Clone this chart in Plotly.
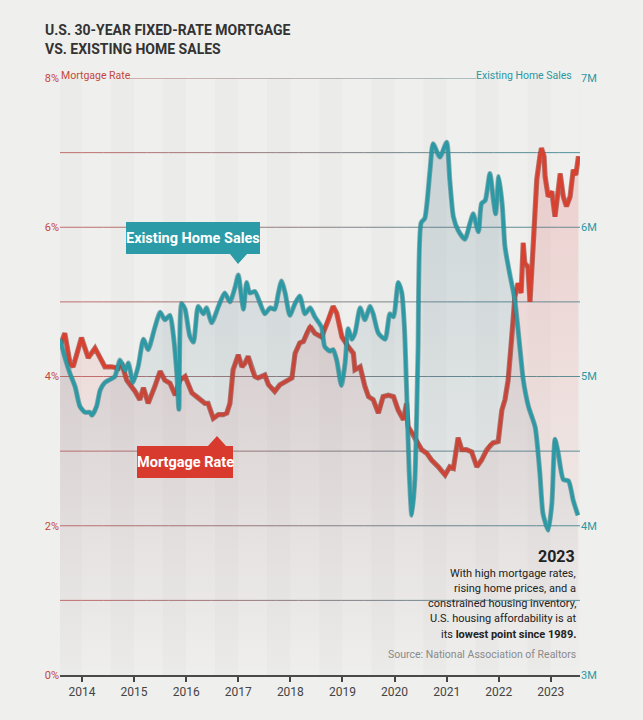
import plotly.graph_objects as go

# ---------------- data ----------------
rate_t = [2013.58, 2013.67, 2013.77, 2013.83, 2013.99, 2014.12, 2014.25, 2014.38, 2014.44, 2014.57,
          2014.70, 2014.76, 2014.86, 2015.02, 2015.11, 2015.18, 2015.27, 2015.40, 2015.50, 2015.59,
          2015.69, 2015.79, 2015.88, 2015.98, 2016.11, 2016.20, 2016.27, 2016.36, 2016.42, 2016.52,
          2016.62, 2016.71, 2016.78, 2016.84, 2016.90, 2017.00, 2017.07, 2017.13, 2017.19, 2017.26,
          2017.32, 2017.38, 2017.51, 2017.58, 2017.70, 2017.80, 2017.90, 2018.03, 2018.09, 2018.18,
          2018.25, 2018.31, 2018.38, 2018.47, 2018.60, 2018.73, 2018.82, 2018.89, 2018.99, 2019.11,
          2019.21, 2019.24, 2019.34, 2019.43, 2019.50, 2019.59, 2019.69, 2019.78, 2019.88, 2019.98,
          2020.07, 2020.17, 2020.23, 2020.26, 2020.39, 2020.52, 2020.62, 2020.71, 2020.84, 2020.97,
          2021.06, 2021.13, 2021.22, 2021.29, 2021.38, 2021.48, 2021.58, 2021.67, 2021.77, 2021.83,
          2021.89, 2021.99, 2022.06, 2022.12, 2022.18, 2022.25, 2022.31, 2022.37, 2022.43, 2022.47,
          2022.50, 2022.56, 2022.60, 2022.66, 2022.73, 2022.79, 2022.82, 2022.87, 2022.89, 2022.95,
          2023.02, 2023.08, 2023.18, 2023.24, 2023.30, 2023.37, 2023.43, 2023.48, 2023.53]
rate_pct = [4.41, 4.58, 4.18, 4.13, 4.52, 4.25, 4.38, 4.22, 4.13, 4.13,
            4.11, 4.18, 3.95, 3.80, 3.69, 3.85, 3.64, 3.87, 4.07, 3.95,
            3.91, 3.75, 3.95, 4.00, 3.78, 3.73, 3.69, 3.64, 3.64, 3.44,
            3.49, 3.49, 3.51, 3.64, 4.09, 4.29, 4.13, 4.18, 4.27, 4.09,
            4.00, 3.98, 4.02, 3.89, 3.80, 3.89, 3.93, 3.98, 4.31, 4.45,
            4.47, 4.58, 4.67, 4.58, 4.53, 4.76, 4.94, 4.85, 4.53, 4.40,
            4.31, 4.09, 4.13, 3.87, 3.73, 3.69, 3.51, 3.73, 3.75, 3.73,
            3.55, 3.42, 3.64, 3.33, 3.19, 3.02, 2.97, 2.88, 2.79, 2.68,
            2.79, 2.77, 3.18, 3.02, 3.02, 2.99, 2.79, 2.88, 3.02, 3.08,
            3.11, 3.13, 3.55, 3.69, 3.95, 4.53, 5.07, 5.25, 5.12, 5.79,
            5.52, 5.47, 5.00, 5.74, 6.64, 6.95, 7.06, 6.95, 6.68, 6.41,
            6.48, 6.14, 6.72, 6.41, 6.28, 6.41, 6.77, 6.70, 6.95]

sales_t = [2013.58, 2013.67, 2013.77, 2013.87, 2013.96, 2014.06, 2014.15, 2014.19, 2014.28, 2014.35,
           2014.44, 2014.54, 2014.63, 2014.73, 2014.83, 2014.89, 2014.98, 2015.08, 2015.18, 2015.27,
           2015.40, 2015.50, 2015.59, 2015.69, 2015.75, 2015.82, 2015.86, 2015.91, 2015.98, 2016.07,
           2016.14, 2016.23, 2016.33, 2016.39, 2016.49, 2016.62, 2016.74, 2016.84, 2016.94, 2017.00,
           2017.07, 2017.10, 2017.16, 2017.22, 2017.32, 2017.42, 2017.51, 2017.61, 2017.70, 2017.77,
           2017.83, 2017.90, 2017.99, 2018.09, 2018.18, 2018.28, 2018.38, 2018.47, 2018.60, 2018.66,
           2018.76, 2018.82, 2018.89, 2018.98, 2019.05, 2019.11, 2019.18, 2019.24, 2019.34, 2019.43,
           2019.53, 2019.59, 2019.69, 2019.82, 2019.91, 2019.98, 2020.07, 2020.14, 2020.19, 2020.23,
           2020.28, 2020.33, 2020.39, 2020.45, 2020.51, 2020.58, 2020.68, 2020.74, 2020.87, 2021.00,
           2021.06, 2021.13, 2021.22, 2021.35, 2021.45, 2021.51, 2021.61, 2021.67, 2021.74, 2021.83,
           2021.90, 2021.94, 2022.00, 2022.07, 2022.12, 2022.21, 2022.31, 2022.41, 2022.47, 2022.57,
           2022.70, 2022.79, 2022.85, 2022.95, 2023.02, 2023.08, 2023.14, 2023.24, 2023.34, 2023.43,
           2023.52]
sales_m = [5.25, 5.13, 5.02, 4.93, 4.80, 4.76, 4.76, 4.74, 4.80, 4.91,
           4.96, 4.98, 5.00, 5.11, 5.04, 5.09, 4.96, 5.07, 5.25, 5.18,
           5.33, 5.43, 5.38, 5.41, 5.29, 5.02, 4.78, 5.49, 5.45, 5.27,
           5.23, 5.47, 5.42, 5.46, 5.36, 5.47, 5.56, 5.50, 5.60, 5.68,
           5.51, 5.45, 5.63, 5.56, 5.57, 5.49, 5.42, 5.46, 5.45, 5.56,
           5.64, 5.56, 5.41, 5.49, 5.54, 5.42, 5.46, 5.40, 5.33, 5.20,
           5.17, 5.18, 5.11, 4.94, 5.09, 5.32, 5.25, 5.29, 5.46, 5.38,
           5.47, 5.42, 5.29, 5.25, 5.42, 5.40, 5.63, 5.56, 5.33, 4.93,
           4.37, 4.07, 4.31, 5.16, 6.03, 6.06, 6.38, 6.56, 6.47, 6.57,
           6.32, 6.07, 5.98, 5.92, 6.03, 6.09, 5.97, 6.16, 6.18, 6.36,
           6.18, 6.09, 6.34, 6.14, 5.87, 5.69, 5.51, 5.18, 4.98, 4.80,
           4.66, 4.35, 4.08, 3.97, 4.15, 4.58, 4.49, 4.31, 4.30, 4.17,
           4.07]

years = list(range(2014, 2024))
rate_ticks = [0, 2, 4, 6, 8]
rate_labels = ["0%", "2%", "4%", "6%", "8%"]
sales_ticks = [3, 4, 5, 6, 7]
sales_labels = ["3M", "4M", "5M", "6M", "7M"]

TITLE = ["U.S. 30-YEAR FIXED-RATE MORTGAGE", "VS. EXISTING HOME SALES"]
NOTE_HEAD = "2023"
NOTE_LINES = ["With high mortgage rates,", "rising home prices, and a",
              "constrained housing inventory,", "U.S. housing affordability is at",
              "its <b>lowest point since 1989.</b>"]
SOURCE = "Source: National Association of Realtors"

# ---------------- style ----------------
W, H = 643, 720
L, R, T, B = 60, 580, 78, 675
BG = "#efefed"
RED = "#d8402f"
RED_DK = "#8e2a21"
TEAL = "#2c99a5"
TEAL_DK = "#1f6f78"
FONT = "Roboto, Liberation Sans Narrow, DejaVu Sans Condensed, sans-serif"


def PX(x):
    return (x - L) / (R - L)


def PY(y):
    return (B - y) / (B - T)


fig = go.Figure()

# fills
fig.add_trace(go.Scatter(
    x=sales_t, y=sales_m, yaxis="y2", mode="lines", line=dict(width=0, shape="spline", smoothing=0.6),
    fill="tozeroy",
    fillgradient=dict(type="vertical", colorscale=[[0, "rgba(70,115,135,0)"], [0.45, "rgba(70,115,135,0.0)"],
                                                   [1, "rgba(70,115,135,0.2)"]]),
    hoverinfo="skip", showlegend=False))
fig.add_trace(go.Scatter(
    x=rate_t, y=rate_pct, mode="lines", line=dict(width=0),
    fill="tozeroy",
    fillgradient=dict(type="vertical", colorscale=[[0, "rgba(225,80,80,0)"], [0.3, "rgba(225,80,80,0.05)"],
                                                   [1, "rgba(225,80,80,0.2)"]]),
    hoverinfo="skip", showlegend=False))

# lines
fig.add_trace(go.Scatter(x=sales_t, y=sales_m, yaxis="y2", mode="lines",
                         line=dict(color=TEAL_DK, width=5, shape="spline", smoothing=0.6),
                         opacity=0.5, hoverinfo="skip", showlegend=False))
fig.add_trace(go.Scatter(x=sales_t, y=sales_m, yaxis="y2", mode="lines", name="Existing Home Sales",
                         line=dict(color=TEAL, width=3.4, shape="spline", smoothing=0.6), showlegend=False))
fig.add_trace(go.Scatter(x=rate_t, y=rate_pct, mode="lines",
                         line=dict(color=RED_DK, width=5.2), opacity=0.6, hoverinfo="skip", showlegend=False))
fig.add_trace(go.Scatter(x=rate_t, y=rate_pct, mode="lines", name="Mortgage Rate",
                         line=dict(color=RED, width=3.4), showlegend=False))

shapes = []
# faint vertical year bands
for yr in range(2013, 2024):
    shapes.append(dict(type="rect", xref="x", yref="paper", x0=yr + 0.55, x1=yr + 1.0, y0=0, y1=1,
                       fillcolor="rgba(0,0,0,0.016)", line=dict(width=0), layer="below"))


# gridlines with a red -> teal horizontal gradient
def mix(t):
    a = (196, 110, 108)
    b = (78, 148, 158)
    return "rgb(%d,%d,%d)" % tuple(int(a[i] + (b[i] - a[i]) * t) for i in range(3))


NSEG = 24
for lvl in range(1, 9):
    x_start, x_end = (0.0, 1.0) if lvl < 8 else (PX(129), PX(476))
    for k in range(NSEG):
        f0 = x_start + (x_end - x_start) * k / NSEG
        f1 = x_start + (x_end - x_start) * (k + 1) / NSEG
        shapes.append(dict(type="line", xref="paper", yref="y", x0=f0, x1=f1, y0=lvl, y1=lvl,
                           line=dict(color=mix((f0 + f1) / 2), width=1), layer="below"))


def poly(points):
    return "M " + " L ".join("%.5f,%.5f" % (PX(x), PY(y)) for x, y in points) + " Z"


# Existing Home Sales box (pointer down)
shapes.append(dict(type="path", xref="paper", yref="paper",
                   path=poly([(126, 222), (260, 222), (260, 254), (247, 254), (238, 264), (230, 254), (126, 254)]),
                   fillcolor="#2a9ba7", line=dict(width=0), layer="above"))
# Mortgage Rate box (pointer up)
shapes.append(dict(type="path", xref="paper", yref="paper",
                   path=poly([(137, 446), (208, 446), (217, 436), (226, 446), (233, 446), (233, 478), (137, 478)]),
                   fillcolor="#d83a2e", line=dict(width=0), layer="above"))

ann = []
ann.append(dict(xref="paper", yref="paper", x=PX(193), y=PY(238), xanchor="center", yanchor="middle",
                text="Existing Home Sales", showarrow=False,
                font=dict(family=FONT, size=14.5, color="white", weight="bold")))
ann.append(dict(xref="paper", yref="paper", x=PX(185), y=PY(462), xanchor="center", yanchor="middle",
                text="Mortgage Rate", showarrow=False,
                font=dict(family=FONT, size=14.5, color="white", weight="bold")))
# title
for i, line in enumerate(TITLE):
    ann.append(dict(xref="paper", yref="paper", x=PX(43), y=PY(30 + 19 * i), xanchor="left", yanchor="middle",
                    text=line, showarrow=False, font=dict(family=FONT, size=14, color="#333333", weight="bold")))
# axis names
ann.append(dict(xref="paper", yref="paper", x=PX(59), y=PY(75), xanchor="left", yanchor="middle",
                text="Mortgage Rate", showarrow=False, font=dict(family=FONT, size=10.5, color="#c4473c")))
ann.append(dict(xref="paper", yref="paper", x=PX(574), y=PY(75), xanchor="right", yanchor="middle",
                text="Existing Home Sales", showarrow=False, font=dict(family=FONT, size=10.5, color="#2c97a3")))
# note
ann.append(dict(xref="paper", yref="paper", x=PX(577), y=PY(556), xanchor="right", yanchor="middle",
                text="<b>" + NOTE_HEAD + "</b>", showarrow=False, font=dict(family=FONT, size=16, color="#222")))
for i, line in enumerate(NOTE_LINES):
    ann.append(dict(xref="paper", yref="paper", x=PX(578), y=PY(573 + 15.3 * i), xanchor="right",
                    yanchor="middle", text=line, showarrow=False,
                    font=dict(family=FONT, size=11, color="#222")))
ann.append(dict(xref="paper", yref="paper", x=PX(578), y=PY(654), xanchor="right", yanchor="middle",
                text=SOURCE, showarrow=False, font=dict(family=FONT, size=10.5, color="#8a8a8a")))

fig.update_layout(
    width=W, height=H, margin=dict(l=L, r=W - R, t=T, b=H - B),
    paper_bgcolor=BG, plot_bgcolor=BG, showlegend=False,
    shapes=shapes, annotations=ann,
    xaxis=dict(range=[2013.578, 2023.56], tickvals=years, ticktext=[str(y) for y in years],
               ticks="outside", ticklen=5, tickwidth=1.5, tickcolor="#444", showline=True,
               linecolor="#4a4a4a", linewidth=2, showgrid=False, zeroline=False,
               tickfont=dict(family=FONT, size=12, color="#444")),
    yaxis=dict(range=[0, 8], tickvals=rate_ticks, ticktext=rate_labels, showgrid=False, zeroline=False,
               ticks="", showline=False, tickfont=dict(family=FONT, size=11, color="#c4473c")),
    yaxis2=dict(range=[3, 7], overlaying="y", side="right", tickvals=sales_ticks, ticktext=sales_labels,
                showgrid=False, zeroline=False, ticks="", showline=False,
                tickfont=dict(family=FONT, size=11, color="#2c97a3")),
)

fig.write_html("out.html")
